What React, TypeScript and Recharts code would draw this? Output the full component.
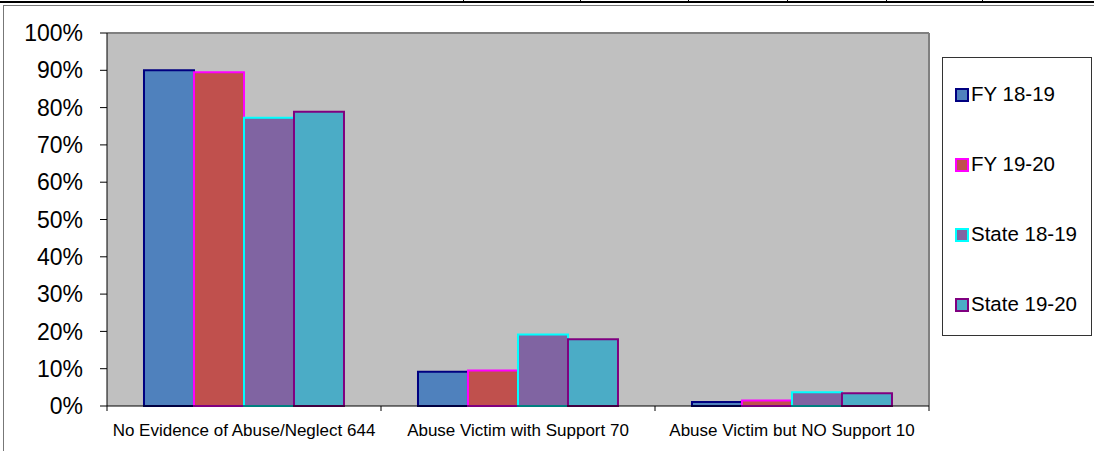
import { Bar, BarChart, CartesianGrid, Legend, XAxis, YAxis } from "recharts";

const categories = [
  "No Evidence of Abuse/Neglect 644",
  "Abuse Victim with Support 70",
  "Abuse Victim but NO Support 10",
];
const fy1819 = [0.9, 0.092, 0.011];
const fy1920 = [0.895, 0.095, 0.015];
const state1819 = [0.773, 0.192, 0.037];
const state1920 = [0.789, 0.179, 0.034];
const yTicks = [0, 0.1, 0.2, 0.3, 0.4, 0.5, 0.6, 0.7, 0.8, 0.9, 1];

const series = [
  { key: "fy1819", name: "FY 18-19", fill: "#4F81BD", stroke: "#000080" },
  { key: "fy1920", name: "FY 19-20", fill: "#C0504D", stroke: "#FF00FF" },
  { key: "state1819", name: "State 18-19", fill: "#8064A2", stroke: "#00FFFF" },
  { key: "state1920", name: "State 19-20", fill: "#4BACC6", stroke: "#800080" },
];

const data = categories.map((name, i) => ({
  name,
  fy1819: fy1819[i],
  fy1920: fy1920[i],
  state1819: state1819[i],
  state1920: state1920[i],
}));

const W = 1094;
const H = 451;
const legendW = 150;
const xAxisH = 30;
const margin = { top: 33, right: 15, bottom: 45 - xAxisH, left: 7 };
const yAxisWidth = 100;
const plotRight = W - margin.right - legendW;
const band = (plotRight - margin.left - yAxisWidth) / categories.length;

const font = "'Liberation Sans', Arial, sans-serif";

const CategoryTick = (props: any) => {
  const { x, y, payload, index } = props;
  const half = band / 2;
  return (
    <g>
      <line x1={x - half} x2={x - half} y1={y - 8} y2={y - 3} stroke="#000" />
      {index === categories.length - 1 && (
        <line x1={x + half} x2={x + half} y1={y - 8} y2={y - 3} stroke="#000" />
      )}
      <text x={x} y={y + 22} textAnchor="middle" fontSize={17} fill="#000" fontFamily={font}>
        {payload.value}
      </text>
    </g>
  );
};

const LegendBox = () => (
  <div
    style={{
      width: legendW,
      height: 279,
      border: "1px solid #333",
      background: "#fff",
      boxSizing: "border-box",
      paddingTop: 25,
      fontFamily: font,
    }}
  >
    {series.map((s) => (
      <div key={s.key} style={{ height: 70, display: "flex", alignItems: "flex-start", paddingLeft: 12 }}>
        <span
          style={{
            display: "inline-block",
            width: 10,
            height: 10,
            background: s.fill,
            border: `2px solid ${s.stroke}`,
            marginTop: 5,
            marginRight: 2,
          }}
        />
        <span style={{ fontSize: 20.5, lineHeight: "22px", color: "#000" }}>{s.name}</span>
      </div>
    ))}
  </div>
);

export default function App() {
  return (
    <div style={{ position: "absolute", left: 0, top: 0, width: W, height: H, background: "#fff" }}>
      {/* page decorations above the chart */}
      <div style={{ position: "absolute", left: 0, top: 1, width: W, height: 2, background: "#000" }} />
      {[463, 580, 688, 787, 886, 982].map((x) => (
        <div key={x} style={{ position: "absolute", left: x, top: 0, width: 1, height: 2, background: "#000" }} />
      ))}
      <div style={{ position: "absolute", left: 3, top: 5, width: W - 3, height: 1, background: "#777" }} />
      <div style={{ position: "absolute", left: 3, top: 5, width: 1, height: H - 5, background: "#777" }} />
      <div style={{ position: "absolute", left: 0, top: 0 }}>
        <BarChart
          width={W}
          height={H}
          data={data}
          margin={margin}
          barCategoryGap="13.5%"
          barGap={0}
        >
          <CartesianGrid
            fill="#C0C0C0"
            stroke="#808080"
            strokeWidth={2}
            horizontalPoints={[margin.top]}
            verticalPoints={[plotRight]}
          />
          <XAxis
            dataKey="name"
            height={xAxisH}
            axisLine={{ stroke: "#000" }}
            tickLine={false}
            tick={<CategoryTick />}
            interval={0}
          />
          <YAxis
            width={yAxisWidth}
            domain={[0, 1]}
            ticks={yTicks}
            interval={0}
            tickFormatter={(v: number) => `${Math.round(v * 100)}%`}
            axisLine={{ stroke: "#000" }}
            tickLine={{ stroke: "#000" }}
            tickSize={7}
            tickMargin={17}
            tick={{ fontSize: 23, fill: "#000", fontFamily: font }}
          />
          <Legend
            layout="vertical"
            align="right"
            verticalAlign="top"
            content={<LegendBox />}
            wrapperStyle={{ position: "absolute", left: 942, top: 57, width: legendW }}
          />
          {series.map((s) => (
            <Bar
              key={s.key}
              dataKey={s.key}
              name={s.name}
              fill={s.fill}
              stroke={s.stroke}
              strokeWidth={2}
              isAnimationActive={false}
            />
          ))}
        </BarChart>
      </div>
    </div>
  );
}
